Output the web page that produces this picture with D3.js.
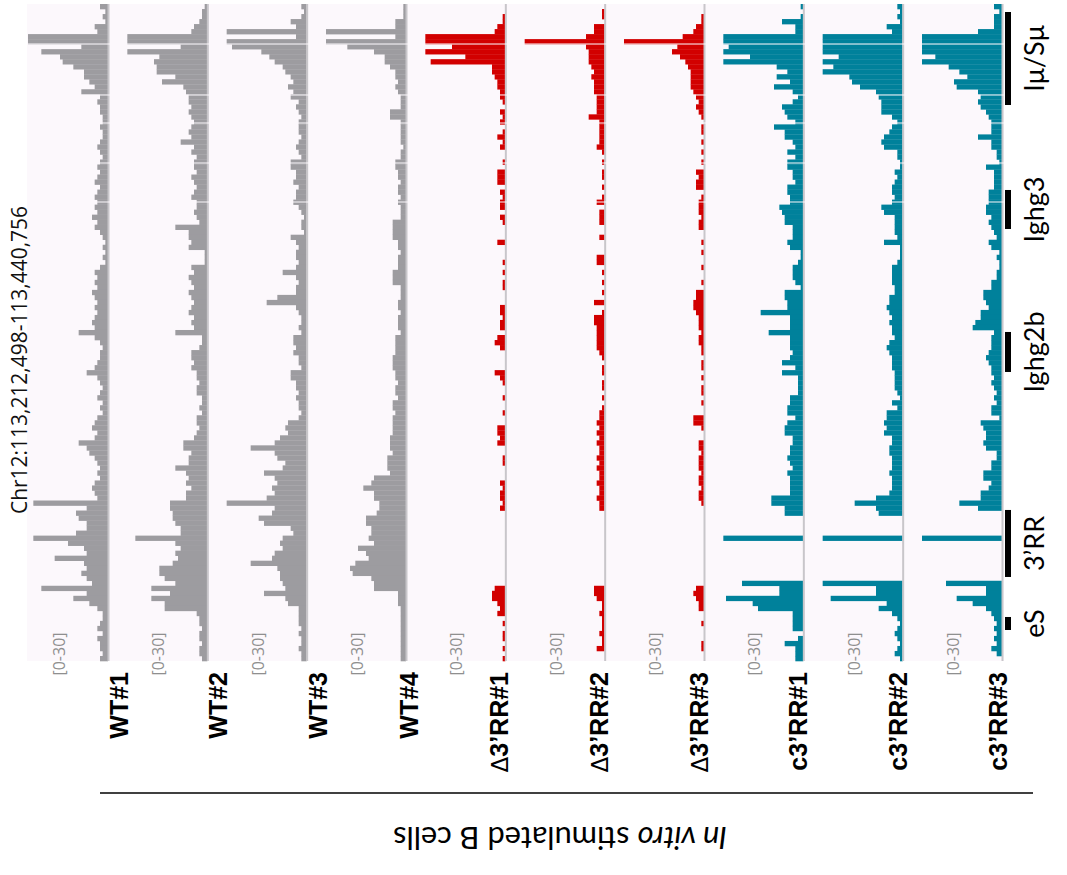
<!DOCTYPE html>
<html><head><meta charset="utf-8">
<script src="https://cdn.jsdelivr.net/npm/d3@7"></script>
<style>body{margin:0;background:#fff}svg{display:block}</style>
</head><body><svg id="c" width="1067" height="875"></svg>
<script>
// ---- data ----
const chrom = "Chr12";
const regionStart = 113212498;
const regionEnd = 113440756;
const valueMax = 30;
const scaleLabel = "[0-30]";
const trackNames = ["WT#1","WT#2","WT#3","WT#4","Δ3’RR#1","Δ3’RR#2","Δ3’RR#3","c3’RR#1","c3’RR#2","c3’RR#3"];
const trackGroups = ["WT","WT","WT","WT","del","del","del","c3","c3","c3"];
// coverage bins, listed from the 113,440,756 end (top) down to 113,212,498 (bottom)
const wt1 = [3,1,2,1,5,4,30,30,10,25, 18,17,13,9,9,7,5,10,3,4, 3,3,2,2,3,2,2,3,4,3, 2,3,4,3,4,5,3,4,5,4, 5,4,6,4,5,3,2,1,2,1, 2,1,3,5,4,5,4,6,5,4, 5,4,5,6,5,11,5,3,2,3, 3,4,5,8,4,3,2,3,4,2, 3,2,4,5,6,4,5,11,8,7, 5,4,3,4,3,5,6,5,4,28, 8,12,11,8,8,12,28,15,9,8, 20,9,8,10,8,6,25,8,13,7, 4,2,2,3,4,2,4,3,3,2,3];
const wt2 = [1,2,2,3,5,6,30,30,10,30, 18,20,19,19,12,17,9,8,7,7, 6,7,6,5,6,7,6,10,5,6, 4,5,5,4,6,5,4,5,6,4, 4,5,4,3,12,7,7,6,7,1, 1,1,6,5,7,6,5,7,6,5, 6,7,5,6,5,12,2,2,3,6, 6,5,6,4,4,3,4,4,2,2, 3,2,4,4,3,4,5,9,9,6, 7,7,12,8,7,8,6,8,8,14, 14,13,13,12,10,10,27,12,10,12, 11,13,18,18,16,12,21,14,21,16, 16,4,3,3,2,3,3,2,3,3,2];
const wt3 = [2,1,2,6,4,30,4,30,28,17, 14,12,9,8,6,5,7,5,6,3, 4,3,2,3,3,3,2,3,4,3, 2,6,6,4,4,5,3,4,4,5, 3,2,1,2,2,1,6,4,3,4, 4,3,4,9,4,3,4,4,11,15, 4,3,2,2,3,2,5,5,4,5, 3,3,2,6,6,4,4,3,4,3, 3,2,3,7,8,7,10,12,21,12, 11,8,9,16,12,11,13,12,15,30, 12,13,18,16,6,5,9,10,9,12, 13,21,11,10,10,9,8,16,8,7, 3,3,3,3,2,3,2,2,3,2,2];
const wt4 = [1,1,1,4,4,30,4,30,22,12, 8,8,6,4,4,3,4,3,2,2, 2,6,6,2,2,2,2,2,1,2, 2,4,4,3,3,2,3,3,2,3, 2,2,2,5,5,5,5,3,3,2, 3,3,3,5,5,5,2,2,2,3, 3,2,3,3,3,2,4,4,4,4, 5,5,5,4,4,3,4,4,3,5, 5,4,5,5,5,5,6,6,6,5, 7,7,7,6,12,13,16,12,12,10, 10,11,15,15,13,13,14,12,18,15, 14,19,21,20,13,12,12,3,3,3, 2,2,2,2,2,2,2,2,2,2,2];
const del1 = [0,0,1,1,3,4,30,30,20,30, 15,28,5,5,4,3,3,2,2,1, 0,2,1,2,0,1,3,1,2,0, 0,1,0,3,3,3,0,2,1,2, 2,0,2,1,0,0,0,3,0,0, 0,1,0,1,0,1,1,0,0,0, 2,2,1,2,2,0,3,4,2,0, 0,0,0,4,2,1,0,0,1,0, 0,1,0,0,3,3,2,3,0,0, 1,1,0,0,0,2,1,2,2,1, 2,0,0,0,0,0,0,0,0,0, 0,0,0,0,0,0,4,5,5,3, 2,3,0,1,0,1,1,0,1,0,1];
const del2 = [0,1,1,0,4,4,7,30,7,6, 6,6,5,4,5,4,4,4,3,3, 3,3,6,2,2,2,2,2,3,1, 0,1,0,1,1,0,1,0,1,3, 0,2,2,2,0,0,2,0,0,0, 3,3,0,1,0,1,0,1,0,4, 0,1,4,4,3,3,3,3,3,2, 1,0,1,1,0,1,1,0,1,0, 1,2,2,3,2,3,2,3,2,2, 3,2,3,2,2,3,2,2,3,2, 2,0,0,0,0,0,0,0,0,0, 0,0,0,0,0,0,4,4,3,1, 1,2,1,1,1,2,1,1,3,0,0];
const del3 = [0,0,1,1,3,4,8,30,10,12, 9,7,6,5,5,5,5,4,3,2, 3,2,1,0,1,1,0,1,0,1, 0,1,0,3,2,3,3,0,1,2, 2,2,1,2,2,0,0,1,0,1, 0,0,1,0,0,1,0,3,3,4, 4,3,2,2,2,1,2,2,1,1, 0,1,1,0,1,0,1,1,0,1, 0,0,4,4,1,0,0,2,2,1, 2,2,2,1,2,2,1,2,2,1, 0,0,0,0,0,0,0,0,0,0, 0,0,0,0,0,0,3,4,3,2, 2,0,0,1,0,0,0,1,1,0,0];
const c1 = [1,0,1,8,3,3,30,30,28,30, 20,30,10,6,10,5,11,4,2,4, 8,7,6,3,11,7,7,4,3,6, 3,6,6,4,4,3,6,6,5,5, 9,8,7,7,4,4,4,6,5,1, 1,2,4,4,4,3,1,7,7,6, 6,16,5,5,5,13,5,5,5,4, 5,8,3,8,2,2,2,2,5,5, 6,6,3,6,7,7,4,4,5,5, 6,5,4,6,5,5,5,5,12,12, 7,7,0,0,0,0,30,0,0,0, 0,0,0,0,0,23,9,9,29,19, 17,4,4,4,4,0,2,7,3,3,3];
const c2 = [2,1,2,1,6,4,30,30,30,30, 24,30,26,30,20,19,16,10,9,8, 8,8,4,2,4,5,7,8,7,2, 2,1,1,3,2,3,4,4,3,4, 8,7,3,3,3,3,2,7,1,1, 1,2,4,4,4,4,3,3,5,5, 6,5,4,5,4,4,3,5,6,5, 4,4,4,3,3,3,3,2,1,4, 2,6,6,7,6,7,4,4,5,5, 4,4,4,5,4,4,4,5,10,18, 10,9,0,0,0,0,30,0,0,0, 0,0,0,0,0,30,10,10,27,6, 9,4,2,1,2,3,2,1,2,3,1];
const c3 = [3,1,3,3,3,9,30,30,30,30, 25,30,20,16,13,18,17,9,8,9, 8,6,5,4,4,4,9,4,4,2, 2,1,6,3,3,3,3,5,5,5, 6,6,4,5,4,3,2,5,4,1, 2,1,1,2,2,4,4,7,7,6, 5,8,8,10,11,3,4,4,4,5, 6,5,4,4,3,4,3,2,3,2, 4,4,1,8,7,6,6,7,6,2, 2,4,4,7,7,4,5,8,8,16, 9,0,0,0,0,0,30,0,0,0, 0,0,0,0,0,21,6,6,17,11, 6,4,3,2,3,2,3,2,4,2,0];
const trackValues = [wt1,wt2,wt3,wt4,del1,del2,del3,c1,c2,c3];
// annotation features (genomic start, end)
const featureNames = ["Iμ/Sμ","Ighg3","Ighg2b","3’RR","eS"];
const featureStarts = [113405669,113362590,113312910,113241690,113223270];
const featureEnds   = [113437977,113376140,113326810,113264970,113227790];
// genomic positions of the thin breaks visible across all coverage tracks
const breakCoords = [113426860,113409143,113399415,113385519,113371971];
const sampleTitle = ["In vitro"," stimulated B cells"];

// ---- drawing ----
const colors = {WT:"#9d9ca0", del:"#d20000", c3:"#00819b"};
const labelDx = [20,20,20,12,3,3,4,4,4,5];
const svg = d3.select("#c");
svg.append("rect").attr("width",1067).attr("height",875).attr("fill","#fff");
const panel = {x0:27, x1:1004, y0:4, y1:661, fill:"#fcf8fc"};
svg.append("rect").attr("x",panel.x0).attr("y",panel.y0)
  .attr("width",panel.x1-panel.x0).attr("height",panel.y1-panel.y0).attr("fill",panel.fill);

const y = d3.scaleLinear().domain([regionEnd, regionStart]).range([panel.y0, panel.y1]);
const xBase = d3.scalePoint().domain(trackNames).range([108, 1002]);
const v = d3.scaleLinear().domain([0, valueMax]).range([0, 80]).clamp(true);
const binCount = wt1.length;
const binSize = (regionEnd - regionStart) / binCount;

trackNames.forEach((name, ti) => {
  const base = xBase(name);
  const g = svg.append("g");
  g.selectAll("rect").data(trackValues[ti]).join("rect")
    .attr("x", d => base - v(d))
    .attr("width", d => v(d))
    .attr("y", (d,i) => y(regionEnd - i*binSize))
    .attr("height", (d,i) => y(regionEnd - (i+1)*binSize) - y(regionEnd - i*binSize) + 0.3)
    .attr("fill", colors[trackGroups[ti]]);
  svg.append("line").attr("x1",base+0.5).attr("x2",base+0.5)
    .attr("y1",panel.y0).attr("y2",panel.y1)
    .attr("stroke","#c8c6ca").attr("stroke-width",2);
  svg.append("text").attr("transform",`translate(${base-43},654) rotate(-90)`)
    .attr("text-anchor","middle").attr("font-family","'Open Sans', sans-serif")
    .attr("font-size",16).attr("fill","#8f8f8f").text(scaleLabel);
  const lab = svg.append("text").attr("transform",`translate(${base+labelDx[ti]},672) rotate(-90)`)
    .attr("text-anchor","end").attr("font-family","'Liberation Sans', Arial, sans-serif")
    .attr("font-weight","bold").attr("font-size",25).attr("fill","#000");
  if (name.startsWith("Δ")) {
    lab.append("tspan").attr("font-weight","normal").attr("font-family","'DejaVu Sans', sans-serif").attr("font-size",23).text("Δ");
    lab.append("tspan").text(name.slice(1));
  } else lab.text(name);
});

// thin breaks across tracks
svg.selectAll("line.brk").data(breakCoords).join("line").attr("class","brk")
  .attr("x1",panel.x0).attr("x2",panel.x1)
  .attr("y1",d=>y(d)).attr("y2",d=>y(d))
  .attr("stroke",panel.fill).attr("stroke-width",1.2);

function fit(sel, target){
  const n = sel.node(); const L = n.getComputedTextLength();
  const fs = parseFloat(sel.attr("font-size"));
  sel.attr("font-size", fs*target/L);
}

const chr = svg.append("text").attr("transform",`translate(27,360) rotate(-90)`)
  .attr("text-anchor","middle").attr("font-family","'Open Sans', sans-serif")
  .attr("font-size",18).attr("fill","#111")
  .text(`${chrom}:${d3.format(",")(regionStart)}-${d3.format(",")(regionEnd)}`);
fit(chr, 308);

featureNames.forEach((f, i) => {
  const yt = y(featureEnds[i]), yb = y(featureStarts[i]);
  svg.append("rect").attr("x",1005).attr("width",6).attr("y",yt).attr("height",yb-yt).attr("fill","#000");
  svg.append("text").attr("transform",`translate(1044,${(yt+yb)/2}) rotate(-90)`)
    .attr("text-anchor","middle").attr("font-family","Lato, sans-serif")
    .attr("font-size",27).attr("fill","#000").text(f);
});

svg.append("line").attr("x1",100).attr("x2",1033).attr("y1",793).attr("y2",793)
  .attr("stroke","#000").attr("stroke-width",1.5);
const t = svg.append("text").attr("transform","translate(560,827) rotate(180)")
  .attr("text-anchor","middle").attr("font-family","Lato, sans-serif")
  .attr("font-size",24).attr("fill","#000");
t.append("tspan").attr("font-style","italic").text(sampleTitle[0]);
t.append("tspan").text(sampleTitle[1]);
fit(t, 334);
</script></body></html>
